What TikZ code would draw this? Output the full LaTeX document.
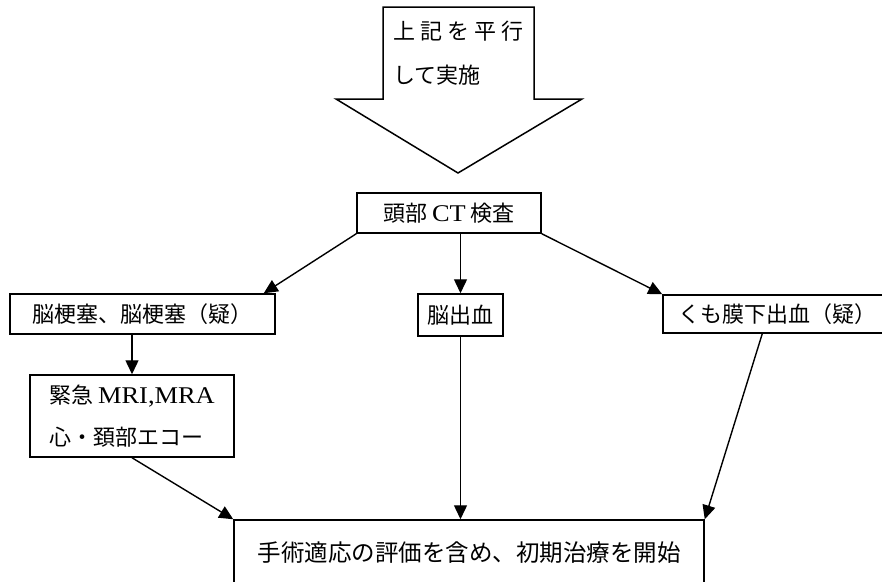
\documentclass[tikz,border=0pt]{standalone}
\usepackage{fontspec}
\usetikzlibrary{arrows.meta}
\newfontfamily\jp{Noto Sans CJK JP}
\newfontfamily\lat[FakeStretch=1.1]{Liberation Serif}
\begin{document}
\begin{tikzpicture}[x=1pt,y=-1pt,
  box/.style={draw,line width=1.5pt,inner sep=0pt,font=\jp\fontsize{22}{42}\selectfont},
  conn/.style={line width=1.4pt,-{Triangle[length=14pt,width=13pt]}},
  txt/.style={inner sep=0pt,font=\jp\fontsize{22}{44}\selectfont}]
\useasboundingbox (0,0) rectangle (882,581);
% block arrow
\draw[line width=1.5pt] (383,7) -- (534,7) -- (534,99) -- (582,99) -- (458,173) -- (336,99) -- (383,99) -- cycle;
\node[txt,anchor=west,align=left] (par) at (393,53) {上\hspace{5pt}記\hspace{5pt}を\hspace{5pt}平\hspace{5pt}行\\して実施};
% boxes
\node[box,minimum width=184pt,minimum height=40pt] (ct) at (449,213) {頭部 {\lat\fontsize{24}{24}\selectfont CT} 検査};
\node[box,minimum width=265pt,minimum height=40pt] (nk) at (142.5,314) {脳梗塞、脳梗塞（疑）};
\node[box,minimum width=85pt,minimum height=42pt] (nsk) at (460.5,315) {脳出血};
\node[box,minimum width=229pt,minimum height=38pt] (km) at (777.5,314) {くも膜下出血（疑）};
\node[box,minimum width=204pt,minimum height=82pt,align=left] (kk) at (132,416) {緊急 {\lat\fontsize{24}{24}\selectfont MRI,MRA}\\心・頚部エコー};
\node[box,minimum width=470pt,minimum height=66pt,font=\jp\fontsize{23.5}{30}\selectfont] (bt) at (469,553) {手術適応の評価を含め、初期治療を開始};
% connectors
\draw[conn] (ct.south west) -- ([xshift=-12pt]nk.north east);
\draw[conn] (ct.south -| nsk.north) -- (nsk.north);
\draw[conn] (ct.south east) -- (km.north west);
\draw[conn] (kk.north |- nk.south) -- (kk.north);
\draw[conn] (kk.south) -- (bt.north west);
\draw[conn] (nsk.south) -- (nsk.south |- bt.north);
\draw[conn] ([xshift=100pt]km.south west) -- (bt.north east);
\end{tikzpicture}
\end{document}
